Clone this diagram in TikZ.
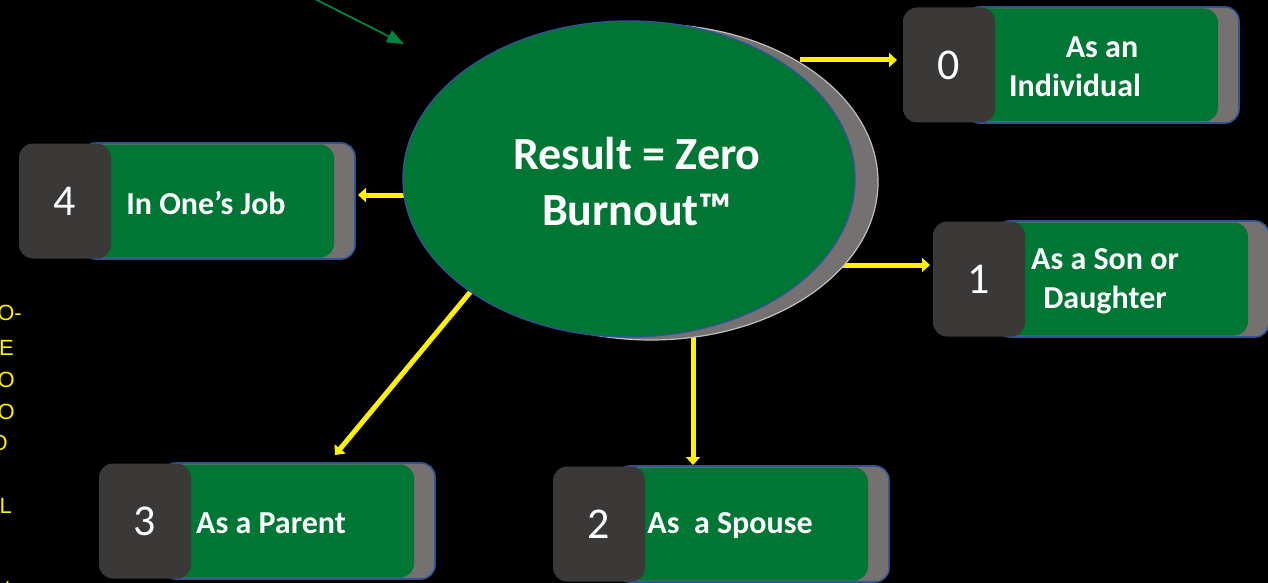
\documentclass[tikz,border=0pt]{standalone}
\usepackage{fontspec}
\setmainfont{Carlito}
\newfontfamily\arialf{Liberation Sans}
\usetikzlibrary{arrows.meta,shapes.geometric,calc}
\definecolor{zgreen}{RGB}{0,118,52}
\definecolor{zdark}{RGB}{59,56,56}
\definecolor{zgray}{RGB}{118,113,113}
\definecolor{zblue}{RGB}{47,85,151}
\definecolor{zarrowgreen}{RGB}{0,133,62}
\definecolor{zlight}{RGB}{191,191,191}
\pgfdeclarelayer{bg}
\pgfdeclarelayer{arrowlayer}
\pgfsetlayers{bg,arrowlayer,main}
\tikzset{
  outerbox/.style={rectangle, rounded corners=14pt, draw=zblue, line width=1.6pt, fill=zgray,
    minimum width=273pt, minimum height=116pt, inner sep=0pt, outer sep=0pt},
  greenbox/.style={rectangle, rounded corners=14pt, fill=zgreen,
    minimum width=252pt, minimum height=113pt, inner sep=0pt, outer sep=0pt},
  darkbox/.style={rectangle, rounded corners=14pt, fill=zdark, text=white,
    minimum width=92pt, minimum height=115pt, inner sep=0pt, outer sep=0pt,
    font=\fontsize{44}{50}\selectfont},
  boxtext/.style={text=white, align=center, inner sep=0pt,
    font=\bfseries\fontsize{32}{39}\selectfont},
  yarrow/.style={draw=yellow, line width=5pt, -{Triangle[length=8pt,width=14pt]}},
  garrow/.style={draw=zarrowgreen, line width=1.8pt, -{Triangle[length=17pt,width=13pt]}},
  sidetext/.style={text=yellow, anchor=east, inner sep=0pt, font=\arialf\fontsize{22}{26}\selectfont},
}
\newcommand\zbox[6]{%
  \node[outerbox] (o#1) at (#2+199.5, #3+58) {};
  \node[greenbox] (g#1) at (#2+189, #3+58) {};
  \node[darkbox] (d#1) at (#2+46, #3+58) {#4};
  \node[boxtext] (t#1) at (#2+#6, #3+60) {#5};
}
\begin{document}
\begin{tikzpicture}[x=1pt,y=-1pt]
\useasboundingbox (0,0) rectangle (1268,583);
\begin{pgfonlayer}{bg}
  \fill[black] (0,0) rectangle (1268,583);
\end{pgfonlayer}
\clip (0,0) rectangle (1268,583);

% central ellipse with shadow
\node[ellipse, fill=zgray, draw=zlight, line width=1.2pt, minimum width=454pt, minimum height=316pt, inner sep=0pt] (ellshadow) at (651,182) {};
\node[ellipse, fill=zgreen, draw=zblue, line width=1.4pt, minimum width=452pt, minimum height=316pt, inner sep=0pt] (ell) at (629,179) {};
\node[text=white, align=center, inner sep=0pt, font=\bfseries\fontsize{46}{56}\selectfont] (elltext) at (637,182) {Result = Zero\\Burnout™};

% boxes
\zbox{0}{903}{7}{0}{\hspace*{54pt}As an\\Individual}{172}
\zbox{4}{19}{143}{4}{In One’s Job}{187}
\zbox{1}{933}{221}{1}{As a Son or\\Daughter}{172}
\zbox{3}{99}{463}{3}{As a Parent}{172}
\zbox{2}{553}{466}{2}{As\ \ a Spouse}{177}

% connectors
\coordinate (s0) at (800,60);
\coordinate (s1) at (840,265);
\coordinate (s4) at (420,195);
\coordinate (s2) at (693,320);
\coordinate (s3) at (472,290);
\coordinate (gstart) at (313,-2);
\coordinate (gend) at (404,44);
\begin{pgfonlayer}{arrowlayer}
  \draw[yarrow, shorten >=6pt] (s0) -- (s0 -| d0.west);
  \draw[yarrow, shorten >=3pt] (s1) -- (s1 -| d1.west);
  \draw[yarrow, shorten >=3pt] (s4) -- (s4 -| o4.east);
  \draw[yarrow, shorten >=1pt] (s2) -- (s2 |- o2.north);
  \draw[yarrow] (s3) -- ([xshift=173pt,yshift=8pt]o3.north west);
\end{pgfonlayer}
\draw[garrow] (gstart) -- (gend);

% cut-off yellow side text
\node[sidetext] (y1) at (22,313) {O-};
\node[sidetext] (y2) at (14,348) {E};
\node[sidetext] (y3) at (15,380) {O};
\node[sidetext] (y4) at (15,412) {O};
\node[sidetext] (y5) at (8,443) {O};
\node[sidetext] (y6) at (12,506) {L};
\node[sidetext] (y7) at (9,590) {/};
\end{tikzpicture}
\end{document}
